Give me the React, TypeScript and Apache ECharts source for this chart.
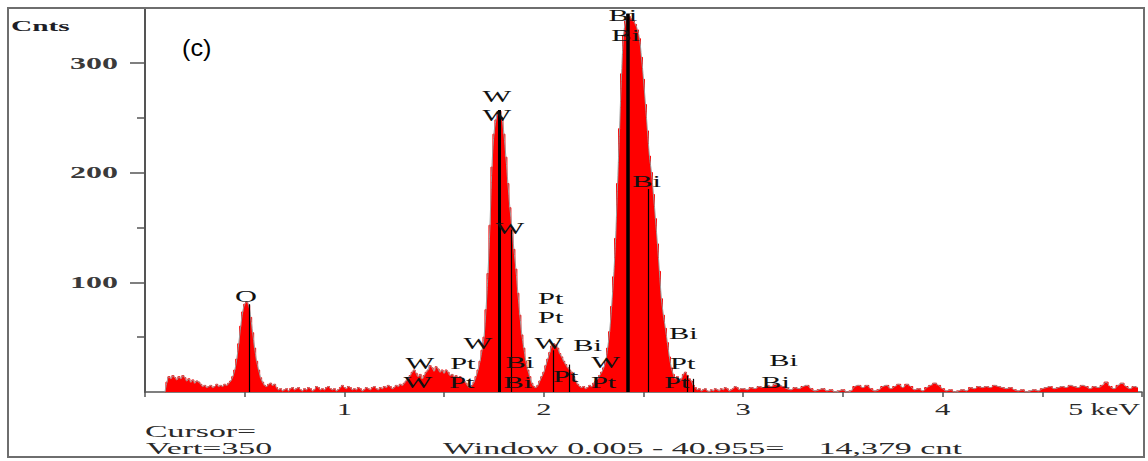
import React, { useEffect, useRef } from 'react';
import * as echarts from 'echarts';

// ---- spectrum channels (counts), 0.01 keV channels from 0.10 keV ----
const lowStart = 0.1;
const lowStep = 0.01;
const lowCounts = [
  0, 9, 14, 12, 15, 13, 11, 14, 12, 15,
  13, 10, 12, 9, 11, 8, 10, 9, 7, 5,
  6, 4, 5, 6, 4, 5, 7, 5, 6, 5,
  7, 6, 8, 10, 14, 20, 30, 44, 60, 73,
  80, 82, 79, 68, 54, 40, 28, 20, 13, 9,
  6, 5, 7, 8, 6, 7, 4, 2, 3, 1,
  2, 3, 1, 3, 4, 2, 3, 4, 2, 1,
  3, 2, 4, 3, 1, 2, 5, 4, 2, 3,
  2, 4, 5, 3, 2, 3, 1, 2, 4, 6,
  4, 3, 5, 4, 2, 3, 2, 4, 3, 1,
  2, 4, 3, 2, 4, 5, 3, 2, 4, 3,
  5, 4, 6, 5, 3, 4, 6, 5, 7, 6,
  8, 10, 12, 15, 18, 20, 17, 14, 16, 12,
  15, 18, 20, 24, 22, 19, 23, 21, 18, 20,
  17, 20, 18, 15, 16, 14, 15, 13, 14, 12,
  10, 8, 5, 4, 6, 9, 14, 20, 28, 38,
  50, 75, 108, 152, 205, 235, 248, 255, 256, 250,
  235, 214, 190, 168, 150, 130, 112, 90, 70, 52,
  40, 28, 20, 14, 8, 5, 4, 6, 10, 14,
  18, 24, 30, 36, 42, 44, 43, 40, 35, 32,
  28, 25, 22, 20, 18, 14, 10, 7, 5, 4,
  5, 3, 4, 6, 5, 8, 10, 12, 15, 18,
  22, 28, 40, 55, 78, 105, 140, 190, 240, 290,
  325, 338, 344, 342, 340, 338, 335, 330, 322, 305,
  285, 262, 238, 215, 200, 180, 158, 135, 110, 85,
  70, 58, 45, 32, 22, 16, 12, 14, 10, 12,
  16, 18, 15, 12, 10, 6, 4, 2, 3, 1,
  2, 3, 1, 0, 2, 1, 3, 2, 1, 3,
  2, 4, 3, 1, 2, 3, 5, 4, 2, 3,
];

// ---- tail channels, 0.02 keV from 3.00 keV ----
const tailStart = 3.0;
const tailStep = 0.02;
const tailCounts = [
  3, 2, 4, 3, 5, 4, 6, 5, 7, 6,
  5, 3, 2, 4, 3, 5, 6, 3, 1, 2,
  3, 1, 2, 0, 1, 2, 0, 1, 5, 6,
  4, 6, 3, 1, 2, 5, 6, 3, 5, 7,
  4, 7, 5, 2, 3, 1, 4, 6, 8, 6,
  3, 1, 2, 0, 1, 2, 1, 4, 3, 5,
  4, 5, 4, 6, 5, 4, 3, 4, 2, 1,
  2, 0, 1, 2, 1, 3, 4, 5, 3, 4,
  5, 4, 6, 5, 4, 6, 5, 3, 5, 4,
  6, 9, 5, 3, 6, 8, 5, 3, 5, 4,
];

// ---- KLM marker lines ----
const markerNames = ['O Ka', 'W Ma', 'W Mb', 'Pt Ma', 'Pt Mb', 'Bi Ma', 'Bi Mb', 'Pt Mg', 'Pt Mz'];
const markerEnergy = [0.525, 1.775, 1.835, 2.048, 2.127, 2.423, 2.526, 2.717, 2.747];
const markerHeight = [80, 257, 148, 38, 25, 345, 185, 15, 12];
const thickMarkers = ['W Ma', 'Bi Ma'];

// ---- element labels ----
const labelText = ['O', 'W', 'W', 'W', 'Bi', 'Bi', 'Bi', 'Pt', 'Pt', 'W', 'Bi', 'Bi', 'W', 'Bi', 'W', 'Pt', 'W', 'Pt', 'Pt', 'W', 'Pt', 'Bi', 'Pt', 'Pt', 'Bi', 'Bi'];
const labelEnergy = [0.506, 1.764, 1.764, 1.83, 2.396, 2.41, 2.516, 2.035, 2.035, 1.669, 1.88, 1.87, 2.025, 2.22, 1.378, 1.594, 1.368, 1.589, 2.11, 2.31, 2.3, 2.7, 2.697, 2.667, 3.203, 3.163];
const labelCounts = [87.5, 269, 252.5, 149.5, 343, 325.4, 192, 85.7, 68.4, 44.7, 27.3, 9.1, 44.7, 42.8, 26.4, 26.4, 9.1, 9.1, 14.6, 27.3, 9.1, 53.8, 26.4, 9.1, 29.2, 9.1];

// ---- axis ticks ----
const yMajorTicks = [100, 200, 300];
const yMinorTicks = [50, 150, 250];
const xTickValues = [1, 2, 3, 4];
const xTickLabels = ['1', '2', '3', '4'];
const xUnitLabel = '5 keV';
const yTitle = 'Cnts';
const panelTag = '(c)';
const footerLines = ['Cursor=', 'Vert=350'];
const windowText = 'Window 0.005 - 40.955=    14,379 cnt';

export default function App() {
  const ref = useRef<HTMLDivElement>(null);

  useEffect(() => {
    const el = ref.current!;
    const chart = echarts.init(el, null, { renderer: 'svg' });

    const spectrum: number[][] = [
      ...lowCounts.map((c, i) => [+(lowStart + i * lowStep).toFixed(2), c]),
      ...tailCounts.map((c, i) => [+(tailStart + i * tailStep).toFixed(2), c]),
    ];

    const axisColor = '#555';

    chart.setOption({
      animation: false,
      backgroundColor: '#ffffff',
      grid: { left: 145, right: 6, top: 8, bottom: 69, containLabel: false },
      xAxis: {
        type: 'value',
        min: 0,
        max: 5,
        interval: 0.5,
        axisLine: { lineStyle: { color: axisColor, width: 1.5 } },
        axisTick: { show: true, length: 5, lineStyle: { color: axisColor, width: 1.5 } },
        axisLabel: { show: false },
        splitLine: { show: false },
      },
      yAxis: [
        {
          type: 'value',
          min: 0,
          max: 350,
          interval: 50,
          axisLine: { show: true, lineStyle: { color: axisColor, width: 2 } },
          axisTick: { show: true, length: 15, customValues: yMajorTicks, lineStyle: { color: axisColor, width: 1.5 } },
          axisLabel: { show: false },
          splitLine: { show: false },
        },
        {
          type: 'value',
          min: 0,
          max: 350,
          interval: 50,
          position: 'left',
          axisLine: { show: false },
          axisTick: { show: true, length: 8, customValues: yMinorTicks, lineStyle: { color: axisColor, width: 1.5 } },
          axisLabel: { show: false },
          splitLine: { show: false },
        },
      ],
      series: [
        {
          type: 'line',
          data: spectrum,
          step: 'middle',
          symbol: 'none',
          silent: true,
          lineStyle: { color: '#ff0000', width: 1 },
          areaStyle: { color: '#ff0000', opacity: 1 },
          z: 2,
        },
        {
          type: 'line',
          data: spectrum,
          smooth: 0.4,
          symbol: 'none',
          silent: true,
          lineStyle: { color: '#9c9c9c', width: 1 },
          z: 3,
          markLine: {
            silent: true,
            symbol: ['none', 'none'],
            label: { show: false },
            data: markerEnergy.map((e, i) => [
              {
                coord: [e, 0],
                lineStyle: {
                  color: '#000',
                  type: 'solid',
                  width: thickMarkers.includes(markerNames[i]) ? (markerNames[i] === 'Bi Ma' ? 3.5 : 3) : 1.2,
                },
              },
              { coord: [e, markerHeight[i]] },
            ]),
          },
        },
      ],
    });

    const toPx = (e: number, c: number) =>
      chart.convertToPixel({ xAxisIndex: 0, yAxisIndex: 0 } as any, [e, c]) as number[];

    const txt = (
      text: string,
      x: number,
      y: number,
      o: { ff?: string; fs: number; fw?: string; fill?: string; align?: string; sx?: number }
    ) => ({
      type: 'text',
      x,
      y,
      scaleX: o.sx ?? 1,
      silent: true,
      z: 100,
      style: {
        text,
        fontFamily: o.ff ?? 'Liberation Serif',
        fontSize: o.fs,
        fontWeight: o.fw ?? 'normal',
        fill: o.fill ?? '#222',
        align: o.align ?? 'center',
        verticalAlign: 'middle',
      },
    });

    const [ox, oy] = toPx(0, 0);
    const [rx] = toPx(5, 0);
    const els: any[] = [];

    els.push({
      type: 'rect',
      silent: true,
      z: 90,
      shape: { x: 8, y: 8, width: 1136, height: 449 },
      style: { fill: 'none', stroke: '#6e6e6e', lineWidth: 2 },
    });

    yMajorTicks.forEach((v) => {
      const [, y] = toPx(0, v);
      els.push(txt(String(v), ox - 27, y, { fs: 16, fw: 'bold', fill: '#3a3a3a', align: 'right', sx: 2 }));
    });

    xTickValues.forEach((v, i) => {
      const [x] = toPx(v, 0);
      els.push(txt(xTickLabels[i], x, oy + 17, { fs: 17, fill: '#2a2a2a', sx: 1.8 }));
    });
    els.push(txt(xUnitLabel, rx - 2, oy + 17, { fs: 17, fill: '#2a2a2a', align: 'right', sx: 1.75 }));

    els.push(txt(yTitle, 11, 26, { fs: 14, fw: 'bold', fill: '#1e1e28', align: 'left', sx: 2.1 }));
    els.push(txt(panelTag, 182, 48, { ff: 'Liberation Sans', fs: 23, fill: '#000', align: 'left', sx: 1.1 }));

    els.push(txt(footerLines[0], ox, 431, { fs: 16.5, fill: '#2a2a2a', align: 'left', sx: 2.05 }));
    els.push(txt(footerLines[1], ox + 1, 448, { fs: 16.5, fill: '#2a2a2a', align: 'left', sx: 2.05 }));
    els.push(txt(windowText, 443, 448, { fs: 16.5, fill: '#2a2a2a', align: 'left', sx: 2.06 }));

    labelText.forEach((t, i) => {
      const [x, y] = toPx(labelEnergy[i], labelCounts[i]);
      els.push(txt(t, x, y, { fs: 16, fill: '#111', sx: 1.9 }));
    });

    chart.setOption({ graphic: { elements: els } });

    return () => {
      chart.dispose();
    };
  }, []);

  return (
    <div
      ref={ref}
      style={{ position: 'absolute', left: 0, top: 0, width: 1148, height: 461 }}
    />
  );
}
